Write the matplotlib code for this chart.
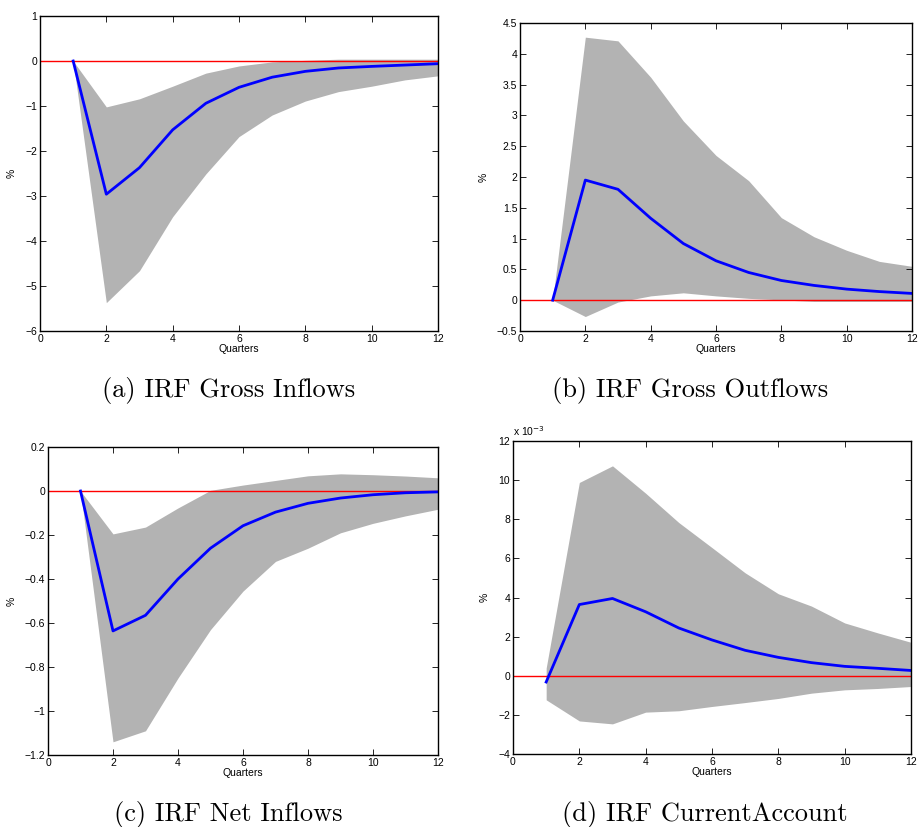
import numpy as np
import matplotlib
matplotlib.use("Agg")
import matplotlib.pyplot as plt

quarters = np.arange(1, 13)

# (a) gross inflows
gi_mid = [0, -2.96, -2.37, -1.53, -0.94, -0.585, -0.36, -0.23, -0.155, -0.12, -0.09, -0.06]
gi_hi = [0, -1.02, -0.84, -0.56, -0.27, -0.11, -0.02, 0.015, 0.04, 0.04, 0.04, 0.04]
gi_lo = [0, -5.37, -4.66, -3.46, -2.51, -1.68, -1.2, -0.89, -0.68, -0.56, -0.42, -0.33]

# (b) gross outflows
go_mid = [0, 1.95, 1.80, 1.33, 0.92, 0.64, 0.45, 0.32, 0.24, 0.18, 0.14, 0.11]
go_hi = [0, 4.27, 4.21, 3.62, 2.91, 2.35, 1.94, 1.34, 1.03, 0.81, 0.63, 0.55]
go_lo = [0, -0.265, -0.03, 0.07, 0.12, 0.07, 0.03, 0.005, -0.02, -0.02, -0.02, -0.02]

# (c) net inflows
ni_mid = [0, -0.636, -0.565, -0.40, -0.26, -0.158, -0.096, -0.056, -0.032, -0.017, -0.008, -0.004]
ni_hi = [0, -0.195, -0.164, -0.077, 0.003, 0.027, 0.048, 0.069, 0.078, 0.074, 0.068, 0.06]
ni_lo = [0, -1.14, -1.09, -0.85, -0.63, -0.455, -0.32, -0.26, -0.19, -0.147, -0.113, -0.083]

# (d) current account, x 1e-3
ca_mid = [-0.32, 3.64, 3.95, 3.27, 2.44, 1.83, 1.30, 0.94, 0.67, 0.48, 0.38, 0.27]
ca_hi = [0.39, 9.88, 10.73, 9.33, 7.83, 6.55, 5.26, 4.19, 3.56, 2.70, 2.19, 1.71]
ca_lo = [-1.23, -2.31, -2.46, -1.86, -1.79, -1.57, -1.37, -1.16, -0.89, -0.72, -0.65, -0.55]

captions = ['(a) IRF Gross Inflows', '(b) IRF Gross Outflows',
            '(c) IRF Net Inflows', '(d) IRF CurrentAccount']

W, H = 919, 827
fig = plt.figure(figsize=(W / 100, H / 100), dpi=100)
plt.rcParams['font.family'] = ['Liberation Sans', 'DejaVu Sans']


def px_axes(l, t, r, b):
    return fig.add_axes([l / W, 1 - b / H, (r - l) / W, (b - t) / H])


panels = [
    (px_axes(40, 16, 438, 331), gi_mid, gi_hi, gi_lo, (-6, 1), np.arange(-6, 2, 1), None),
    (px_axes(520, 23, 912, 331), go_mid, go_hi, go_lo, (-0.5, 4.5), np.arange(-0.5, 4.51, 0.5), None),
    (px_axes(48, 447, 438, 755), ni_mid, ni_hi, ni_lo, (-1.2, 0.2), np.arange(-1.2, 0.21, 0.2), None),
    (px_axes(513, 441, 911, 754), ca_mid, ca_hi, ca_lo, (-4, 12), np.arange(-4, 13, 2), 'x'),
]

for ax, mid, hi, lo, ylim, yt, mult in panels:
    ax.fill_between(quarters, lo, hi, color='#b3b3b3', linewidth=0)
    ax.axhline(0, color='red', linewidth=1.0)
    ax.plot(quarters, mid, color='blue', linewidth=2.0)
    ax.set_xlim(0, 12)
    ax.set_ylim(*ylim)
    ax.set_xticks(np.arange(0, 13, 2))
    ax.set_yticks(yt)
    ylabels = []
    for v in yt:
        s = ('%g' % (round(v, 2) + 0.0)).replace('-', '\u2212')
        if s == '\u22120':
            s = '0'
        ylabels.append(s)
    ax.set_yticklabels(ylabels)
    ax.tick_params(direction='in', top=True, right=True, labelsize=7.5, length=4,
                   width=0.6, pad=2, colors='black')
    for sp in ax.spines.values():
        sp.set_linewidth(1.0)
    ax.set_xlabel('Quarters', fontsize=7.5, labelpad=0)
    ax.set_ylabel('%', fontsize=7.5, labelpad=6)
    if mult:
        ax.text(0.0, 1.01, r'x 10$^{-3}$', transform=ax.transAxes, fontsize=7.5,
                ha='left', va='bottom')

cap_pos = [(229, 390), (690, 390), (228, 815), (705, 815)]
for (cx, cy), cap in zip(cap_pos, captions):
    fig.text(cx / W, 1 - cy / H, cap, fontsize=19, family='cmr10',
             ha='center', va='center')

fig.savefig('out.png', dpi=100)
